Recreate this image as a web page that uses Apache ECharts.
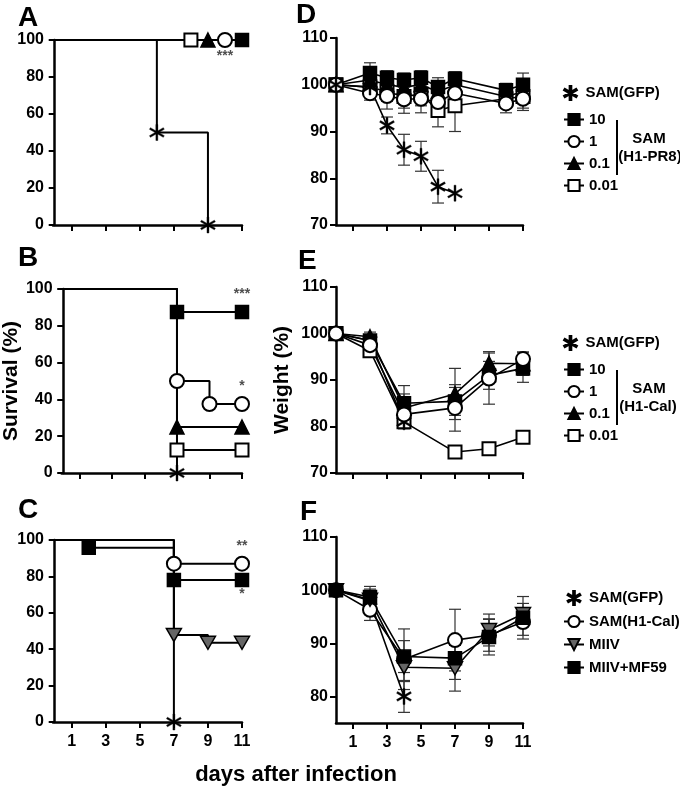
<!DOCTYPE html>
<html>
<head>
<meta charset="utf-8">
<script src="https://cdn.jsdelivr.net/npm/echarts@6/dist/echarts.min.js"></script>
<style>
html, body { margin: 0; padding: 0; background: #fff; }
#chart { width: 680px; height: 791px; }
</style>
</head>
<body>
<div id="chart"></div>
<script>
// ---- survival (%) : [day, value] steps, plus days that carry a symbol ----
var survA_gfp = [[0, 100], [6, 50], [9, 0]],            markA_gfp = [6, 9];
var survA_10  = [[0, 100], [11, 100]],                   markA_10  = [11];
var survA_1   = [[0, 100], [10, 100]],                   markA_1   = [10];
var survA_01  = [[0, 100], [9, 100]],                    markA_01  = [9];
var survA_001 = [[0, 100], [8, 100]],                    markA_001 = [8];

var survB_gfp = [[0, 100], [7, 0]],                      markB_gfp = [7];
var survB_10  = [[0, 100], [7, 87.5], [11, 87.5]],       markB_10  = [7, 11];
var survB_1   = [[0, 100], [7, 50], [9, 37.5], [11, 37.5]], markB_1 = [7, 9, 11];
var survB_01  = [[0, 100], [7, 25], [11, 25]],           markB_01  = [7, 11];
var survB_001 = [[0, 100], [7, 12.5], [11, 12.5]],       markB_001 = [7, 11];

var survC_gfp  = [[0, 100], [7, 0]],                     markC_gfp  = [7];
var survC_cal  = [[0, 100], [7, 87], [11, 87]],          markC_cal  = [7, 11];
var survC_miiv = [[0, 100], [7, 47.8], [9, 43.5], [11, 43.5]], markC_miiv = [7, 9, 11];
var survC_mf59 = [[0, 100], [2, 95.8], [7, 78], [11, 78]], markC_mf59 = [2, 7, 11];

// significance marks [day, value, text]
var annA = [[10, 91.5, '***']];
var annB = [[11, 97, '***'], [11, 47, '*']];
var annC = [[11, 96.5, '**'], [11, 70, '*']];

// ---- weight (%) ----
var daysD = [0, 2, 3, 4, 5, 6, 7, 10, 11];
var daysD_gfp = [0, 2, 3, 4, 5, 6, 7];
var wD_gfp = [100, 99.5, 91.3, 86.1, 84.7, 78.2, 76.8];
var eD_gfp = [0, 1, 1.8, 3.3, 3.2, 3.5, 0];
var wD_10  = [100, 102.5, 101.5, 101, 101.5, 99.5, 101.3, 98.8, 100];
var eD_10  = [0, 2.2, 1.5, 1.5, 1.5, 2, 1.5, 1.5, 2.5];
var wD_1   = [100, 98.2, 97.6, 96.9, 97, 96.3, 98.2, 96, 97];
var eD_1   = [0, 1.5, 2.8, 3, 3, 2.5, 2.5, 2, 2.5];
var wD_01  = [100, 101, 100, 99.5, 100, 98.5, 100, 97.5, 98.5];
var eD_01  = [0, 1, 1, 1.5, 1.5, 2, 1.5, 1.5, 2];
var wD_001 = [100, 99.5, 98.5, 97.5, 98, 94.5, 95.5, 97, 97.5];
var eD_001 = [0, 1, 2, 2.5, 2.5, 3.5, 5.5, 1.5, 2.5];

var daysE = [0, 2, 4, 7, 9, 11];
var daysE_gfp = [0, 2, 4];
var wE_gfp = [100, 98.5, 81];
var eE_gfp = [0, 1, 1.5];
var wE_10  = [100, 98.5, 85, 85.4, 91, 92.5];
var eE_10  = [0, 1, 3.8, 3, 3, 3];
var wE_1   = [100, 97.5, 82.6, 84, 90.3, 94.5];
var eE_1   = [0, 1.5, 2, 5, 5.5, 1.5];
var wE_01  = [100, 99.3, 84, 87, 93.6, 93.5];
var eE_01  = [0, 1, 3, 5.5, 2.5, 2.5];
var wE_001 = [100, 96.3, 81, 74.5, 75.2, 77.7];
var eE_001 = [0, 1, 1, 0.5, 0.5, 0.5];

var daysF = [0, 2, 4, 7, 9, 11];
var daysF_gfp = [0, 2, 4];
var wF_gfp  = [100, 98, 80];
var eF_gfp  = [0, 1.5, 3];
var wF_cal  = [100, 96.3, 87, 90.6, 91.5, 94];
var eF_cal  = [0, 2, 5.7, 5.8, 3, 2.5];
var wF_miiv = [100, 98.2, 85.5, 85.3, 92.5, 95.5];
var eF_miiv = [0, 2, 2.7, 4.3, 3, 2];
var wF_mf59 = [100, 98.7, 87.5, 87.2, 91.2, 94.8];
var eF_mf59 = [0, 2, 3, 4, 3.4, 4];

var dayTicks = [1, 3, 5, 7, 9, 11];
var weightTicksF = [80, 90, 100, 110];

// ---- symbols ----
function starPath() {
  var w = 0.12, d = '';
  [90, 30, 150].forEach(function (a) {
    var r = a * Math.PI / 180, c = Math.cos(r), s = Math.sin(r);
    var px = -s * w, py = c * w;
    var pts = [[c + px, s + py], [c - px, s - py], [-c - px, -s - py], [-c + px, -s + py]];
    d += 'M' + pts.map(function (p) { return p[0].toFixed(3) + ',' + p[1].toFixed(3); }).join('L') + 'Z';
  });
  return 'path://' + d;
}
var STAR = starPath();
var DTRI = 'path://M0,0L2,0L1,1.732Z';

var STY = {
  gfp:  { symbol: STAR, size: 16, fill: '#000', bw: 0.4 },
  sq:   { symbol: 'rect', size: 13, fill: '#000', bw: 1.5 },
  circ: { symbol: 'circle', size: 14, fill: '#fff', bw: 2 },
  tri:  { symbol: 'triangle', size: 14, fill: '#000', bw: 1.5 },
  osq:  { symbol: 'rect', size: 13, fill: '#fff', bw: 2 },
  dtri: { symbol: DTRI, size: 15, fill: '#666', bw: 1.5 }
};

var FONT = 'Liberation Sans, Arial, sans-serif';

function lineBase(name, gi, st) {
  return {
    type: 'line', name: name, xAxisIndex: gi, yAxisIndex: gi,
    symbol: st.symbol, symbolSize: st.size, symbolKeepAspect: true,
    itemStyle: { color: st.fill, borderColor: '#000', borderWidth: st.bw },
    lineStyle: { color: '#000', width: 2 },
    emphasis: { disabled: true }, z: 3
  };
}

function survSeries(name, gi, pts, marks, st) {
  var s = lineBase(name, gi, st);
  s.step = 'end';
  s.data = pts.map(function (p) {
    return marks.indexOf(p[0]) >= 0 ? { value: p } : { value: p, symbol: 'none' };
  });
  return s;
}

function weightSeries(name, gi, days, vals, st) {
  var s = lineBase(name, gi, st);
  s.lineStyle.width = 1.6;
  s.data = days.map(function (d, i) { return [d, vals[i]]; });
  return s;
}

function errSeries(gi, days, vals, errs) {
  var data = [];
  days.forEach(function (d, i) {
    if (errs[i] > 0) data.push([d, vals[i] - errs[i], vals[i] + errs[i]]);
  });
  return {
    type: 'custom', xAxisIndex: gi, yAxisIndex: gi, z: 2, silent: true,
    encode: { x: 0, y: [1, 2] },
    data: data,
    renderItem: function (params, api) {
      var x = api.value(0);
      var top = api.coord([x, api.value(2)]), bot = api.coord([x, api.value(1)]);
      var hw = 6, sty = { stroke: '#333', lineWidth: 1.2 };
      return { type: 'group', children: [
        { type: 'line', shape: { x1: top[0], y1: top[1], x2: bot[0], y2: bot[1] }, style: sty },
        { type: 'line', shape: { x1: top[0] - hw, y1: top[1], x2: top[0] + hw, y2: top[1] }, style: sty },
        { type: 'line', shape: { x1: bot[0] - hw, y1: bot[1], x2: bot[0] + hw, y2: bot[1] }, style: sty }
      ] };
    }
  };
}

function annSeries(gi, ann) {
  return {
    type: 'scatter', xAxisIndex: gi, yAxisIndex: gi, symbolSize: 1, silent: true, z: 5,
    itemStyle: { color: 'rgba(0,0,0,0)' },
    data: ann.map(function (a) { return { value: [a[0], a[1]], label: { formatter: a[2] } }; }),
    label: { show: true, position: 'inside', color: '#222', fontSize: 14, fontWeight: 'bold', fontFamily: FONT }
  };
}

var axisLineSty = { show: true, lineStyle: { color: '#000', width: 2.5 } };
var tickSty = { show: true, length: 6, lineStyle: { color: '#000', width: 2 } };
var labelSty = { color: '#000', fontSize: 16, fontWeight: 'bold', fontFamily: FONT };

function xAx(gi, min, showLabel) {
  return {
    type: 'value', gridIndex: gi, min: min, max: 11,
    axisLine: axisLineSty, splitLine: { show: false },
    axisTick: Object.assign({ customValues: dayTicks }, tickSty),
    axisLabel: Object.assign({ show: showLabel, customValues: dayTicks, margin: 12 }, labelSty)
  };
}
function ySurv(gi) {
  return {
    type: 'value', gridIndex: gi, min: 0, max: 100, interval: 20,
    axisLine: axisLineSty, splitLine: { show: false }, axisTick: tickSty,
    axisLabel: Object.assign({ margin: 9 }, labelSty)
  };
}
function yWeight(gi) {
  return {
    type: 'value', gridIndex: gi, min: 70, max: 110, interval: 10,
    axisLine: axisLineSty, splitLine: { show: false }, axisTick: tickSty,
    axisLabel: Object.assign({ margin: 8 }, labelSty)
  };
}

var yAxes = [ySurv(0), ySurv(1), ySurv(2), yWeight(3), yWeight(4), yWeight(5)];
yAxes[1].name = 'Survival (%)';
yAxes[4].name = 'Weight (%)';
[1, 4].forEach(function (i) {
  yAxes[i].nameLocation = 'middle';
  yAxes[i].nameRotate = 90;
  yAxes[i].nameTextStyle = { fontSize: 21, fontWeight: 'bold', color: '#000', fontFamily: FONT };
});
yAxes[1].nameGap = 32;
yAxes[4].nameGap = 43;
yAxes[5].min = 75;
yAxes[5].interval = null;
yAxes[5].axisTick = Object.assign({ customValues: weightTicksF }, tickSty);
yAxes[5].axisLabel = Object.assign({ margin: 8, customValues: weightTicksF }, labelSty);

var series = [
  // A
  survSeries('A 0.01', 0, survA_001, markA_001, STY.osq),
  survSeries('A 0.1', 0, survA_01, markA_01, STY.tri),
  survSeries('A 1', 0, survA_1, markA_1, STY.circ),
  survSeries('A 10', 0, survA_10, markA_10, STY.sq),
  survSeries('A GFP', 0, survA_gfp, markA_gfp, STY.gfp),
  annSeries(0, annA),
  // B
  survSeries('B GFP', 1, survB_gfp, markB_gfp, STY.gfp),
  survSeries('B 0.01', 1, survB_001, markB_001, STY.osq),
  survSeries('B 0.1', 1, survB_01, markB_01, STY.tri),
  survSeries('B 1', 1, survB_1, markB_1, STY.circ),
  survSeries('B 10', 1, survB_10, markB_10, STY.sq),
  annSeries(1, annB),
  // C
  survSeries('C GFP', 2, survC_gfp, markC_gfp, STY.gfp),
  survSeries('C MIIV', 2, survC_miiv, markC_miiv, STY.dtri),
  survSeries('C MF59', 2, survC_mf59, markC_mf59, STY.sq),
  survSeries('C Cal', 2, survC_cal, markC_cal, STY.circ),
  annSeries(2, annC),
  // D
  errSeries(3, daysD_gfp, wD_gfp, eD_gfp),
  errSeries(3, daysD, wD_10, eD_10),
  errSeries(3, daysD, wD_1, eD_1),
  errSeries(3, daysD, wD_01, eD_01),
  errSeries(3, daysD, wD_001, eD_001),
  weightSeries('0.01', 3, daysD, wD_001, STY.osq),
  weightSeries('0.1', 3, daysD, wD_01, STY.tri),
  weightSeries('10', 3, daysD, wD_10, STY.sq),
  weightSeries('1', 3, daysD, wD_1, STY.circ),
  weightSeries('SAM(GFP)', 3, daysD_gfp, wD_gfp, STY.gfp),
  // E
  errSeries(4, daysE_gfp, wE_gfp, eE_gfp),
  errSeries(4, daysE, wE_10, eE_10),
  errSeries(4, daysE, wE_1, eE_1),
  errSeries(4, daysE, wE_01, eE_01),
  errSeries(4, daysE, wE_001, eE_001),
  weightSeries('0.01', 4, daysE, wE_001, STY.osq),
  weightSeries('SAM(GFP)', 4, daysE_gfp, wE_gfp, STY.gfp),
  weightSeries('0.1', 4, daysE, wE_01, STY.tri),
  weightSeries('10', 4, daysE, wE_10, STY.sq),
  weightSeries('1', 4, daysE, wE_1, STY.circ),
  // F
  errSeries(5, daysF_gfp, wF_gfp, eF_gfp),
  errSeries(5, daysF, wF_cal, eF_cal),
  errSeries(5, daysF, wF_miiv, eF_miiv),
  errSeries(5, daysF, wF_mf59, eF_mf59),
  weightSeries('SAM(GFP)', 5, daysF_gfp, wF_gfp, STY.gfp),
  weightSeries('SAM(H1-Cal)', 5, daysF, wF_cal, STY.circ),
  weightSeries('MIIV', 5, daysF, wF_miiv, STY.dtri),
  weightSeries('MIIV+MF59', 5, daysF, wF_mf59, STY.sq)
];

var legendText = { color: '#000', fontSize: 15, fontWeight: 'bold', fontFamily: FONT, lineHeight: 14 };
function legItem(name) {
  // the asterisk group is shown without line stubs
  return name === 'SAM(GFP)' ? { name: name, icon: STAR } : { name: name };
}
function leg(names, top, gap) {
  return {
    data: names.map(legItem), orient: 'vertical', left: 563, top: top, itemGap: gap,
    itemWidth: 20, itemHeight: 14, selectedMode: false, textStyle: legendText, padding: 0
  };
}

function txt(x, y, s, size, align) {
  return {
    type: 'text', x: x, y: y, silent: true,
    style: { text: s, fill: '#000', font: 'bold ' + size + 'px ' + FONT, align: align || 'left', verticalAlign: 'middle' }
  };
}
function vline(x, y1, y2) {
  return { type: 'line', silent: true, shape: { x1: x, y1: y1, x2: x, y2: y2 }, style: { stroke: '#000', lineWidth: 2 } };
}

var option = {
  animation: false,
  backgroundColor: '#fff',
  grid: [
    { left: 53, top: 40, width: 189, height: 185 },
    { left: 53, top: 289, width: 189, height: 184 },
    { left: 53, top: 540, width: 189, height: 182 },
    { left: 336, top: 38, width: 187, height: 187 },
    { left: 336, top: 287, width: 187, height: 186 },
    { left: 336, top: 537, width: 187, height: 186 }
  ],
  xAxis: [xAx(0, -0.1, false), xAx(1, -0.1, false), xAx(2, -0.1, true),
          xAx(3, 0, false), xAx(4, 0, false), xAx(5, 0, true)],
  yAxis: yAxes,
  legend: [
    leg(['SAM(GFP)'], 85, 7),
    leg(['10', '1', '0.1', '0.01'], 112, 7),
    leg(['SAM(GFP)'], 335, 7),
    leg(['10', '1', '0.1', '0.01'], 362, 7),
    leg(['SAM(GFP)', 'SAM(H1-Cal)', 'MIIV', 'MIIV+MF59'], 590, 8)
  ],
  graphic: [
    txt(18, 18, 'A', 28), txt(18, 258, 'B', 28), txt(18, 510, 'C', 28),
    txt(296, 15, 'D', 28), txt(298, 261, 'E', 28), txt(300, 512, 'F', 28),
    vline(617, 120, 175), txt(649, 139, 'SAM', 15, 'center'), txt(650, 157, '(H1-PR8)', 15, 'center'),
    vline(617, 370, 425), txt(649, 389, 'SAM', 15, 'center'), txt(648, 407, '(H1-Cal)', 15, 'center'),
    txt(296, 775, 'days after infection', 22, 'center')
  ],
  series: series
};

var chart = echarts.init(document.getElementById('chart'));
chart.setOption(option);
</script>
</body>
</html>
